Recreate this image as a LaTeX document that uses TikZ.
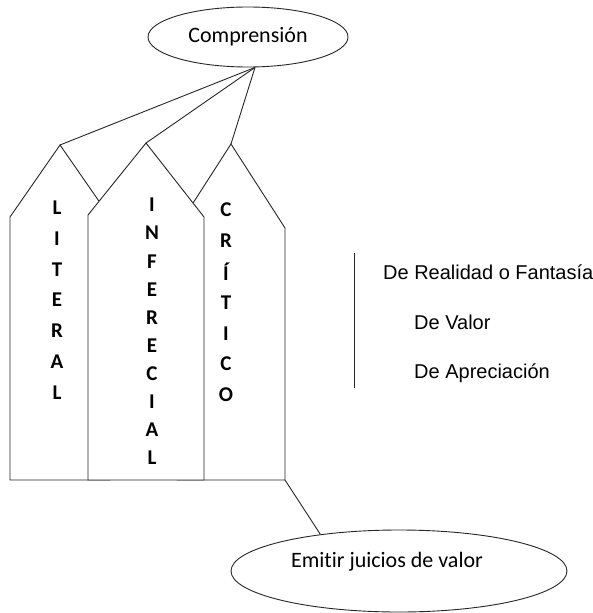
\documentclass[tikz,border=0pt]{standalone}
\usepackage{fontspec}
\setmainfont{Carlito}[Ligatures=NoCommon]
\newfontfamily\arialfont{Liberation Sans}
\usetikzlibrary{shapes.geometric}
\begin{document}
\begin{tikzpicture}
[
x=1pt, y=-1pt,
ovalo/.style={ellipse, draw=black!85, line width=0.9pt, inner sep=0pt},
casa/.style={draw=black!85, fill=white, line width=0.9pt, line join=miter},
linea/.style={draw=black!85, line width=0.9pt},
letra/.style={inner sep=0pt, font=\bfseries\fontsize{21}{21}\selectfont},
nivel/.style={anchor=west, inner sep=0pt, font=\arialfont\fontsize{20}{24}\selectfont}
]
\useasboundingbox (0,0) rectangle (593,613);

%Nodes
\node[ovalo, minimum width=200pt, minimum height=60pt, font=\fontsize{22}{26}\selectfont] at(248,37) (compr) {Comprensión};
\coordinate (hub) at ([xshift=7pt]compr.south);

\coordinate (lit) at(60,145);
\coordinate (inf) at(146,143);
\coordinate (cri) at(231,144);

%Columns
\draw[casa] (10,480) -- (10,217) -- (lit) -- (110,217) -- (110,480) -- cycle;
\draw[casa] (177,480) -- (177,228) -- (cri) -- (285,228) -- (285,480) -- cycle;
\draw[casa] (88,480) -- (88,215) -- (inf) -- (204,217) -- (204,480) -- cycle;
\coordinate (esq) at(285,480);

\foreach \ch [count=\i from 0] in {L,I,T,E,R,A,L}
  \node[letra] (lit-\i) at(57,208+30.7*\i) {\ch};
\foreach \ch [count=\i from 0] in {I,N,F,E,R,E,C,I,A,L}
  \node[letra] (inf-\i) at(152,205+28.1*\i) {\ch};
\foreach \ch [count=\i from 0] in {C,R,Í,T,I,C,O}
  \node[letra] (cri-\i) at(226,210+30.8*\i) {\ch};

%Links
\draw[linea] (hub) -- (lit);
\draw[linea] (hub) -- (inf);
\draw[linea] (hub) -- (cri);

%Levels
\coordinate (barra-a) at(354,253);
\coordinate (barra-b) at(354,388);
\draw[linea] (barra-a) -- (barra-b);
\node[nivel] (n1) at(383,272) {De Realidad o Fantasía};
\node[nivel] (n2) at(414,322) {De Valor};
\node[nivel] (n3) at(414,373) {De Apreciación};

%Bottom
\node[ovalo, minimum width=336pt, minimum height=82pt] at(399,571) (juicio) {};
\node[font=\fontsize{22}{26}\selectfont] (juicio-t) at(387,562) {Emitir juicios de valor};
\draw[linea] (esq) -- (juicio.155);

\end{tikzpicture}
\end{document}
